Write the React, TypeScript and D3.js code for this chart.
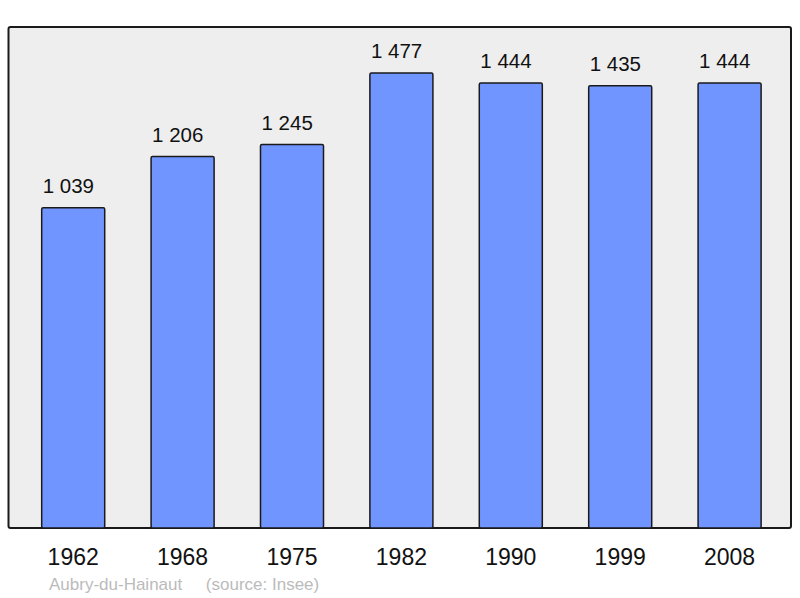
import React from 'react'
import * as d3 from 'd3'

/** Census years shown on the x axis */
const years: string[] = ['1962', '1968', '1975', '1982', '1990', '1999', '2008']

/** Population for each census year */
const population: number[] = [1039, 1206, 1245, 1477, 1444, 1435, 1444]

const townName = 'Aubry-du-Hainaut'
const sourceNote = '(source: Insee)'

const width = 800
const height = 598

const panel = { left: 8.5, top: 27, right: 791, bottom: 528 }

/** French style thousands separator: "1 039" */
const formatValue = (v: number) => d3.format(',')(v).replace(/,/g, ' ')

const App = () => {
    const xScale = d3.scaleBand<string>()
        .domain(years)
        .range([18.5, 784.3])
        .paddingInner(0.424)
        .paddingOuter(0.212)

    const yScale = d3.scaleLinear()
        .domain([0, 1626])
        .range([panel.bottom, panel.top])

    return (
        <svg
            width={width}
            height={height}
            style={{ position: 'absolute', left: 0, top: 0, fontFamily: '"Liberation Sans", Arial, sans-serif' }}
        >
            <rect
                x={panel.left}
                y={panel.top}
                width={panel.right - panel.left}
                height={panel.bottom - panel.top}
                rx={2}
                fill="#eeeeee"
                stroke="#1a1a1a"
                strokeWidth={2}
            />
            {population.map((value, index) => {
                const x = xScale(years[index]) as number
                const y = yScale(value)
                return (
                    <g key={years[index]}>
                        <rect
                            x={x}
                            y={y}
                            width={xScale.bandwidth()}
                            height={panel.bottom - y}
                            rx={1.5}
                            fill="#7195ff"
                            stroke="#1a1a1a"
                            strokeWidth={1.5}
                        />
                        {/* value labels sit left-aligned on the bar edge, like the original */}
                        <text
                            x={x + 1}
                            y={y - 14.7}
                            fontSize={20.5}
                            fill="#111"
                        >
                            {formatValue(value)}
                        </text>
                    </g>
                )
            })}
            {years.map((year) => (
                <text
                    key={year}
                    x={(xScale(year) as number) + xScale.bandwidth() / 2}
                    y={565}
                    textAnchor="middle"
                    fontSize={23}
                    fill="#111"
                >
                    {year}
                </text>
            ))}
            <text x={49} y={590} fontSize={17} fill="#bbbbbb" style={{ whiteSpace: 'pre' }}>
                {townName + '     ' + sourceNote}
            </text>
        </svg>
    )
}

export default App
